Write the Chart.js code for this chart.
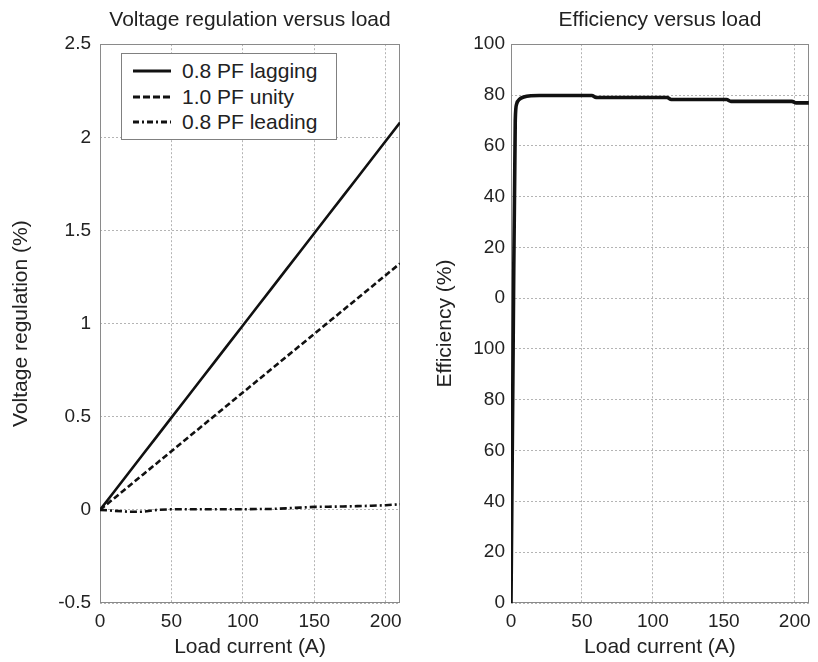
<!DOCTYPE html>
<html><head><meta charset="utf-8">
<script src="https://cdn.jsdelivr.net/npm/chart.js@4.4.1/dist/chart.umd.min.js"></script>
<style>
html,body{margin:0;padding:0;background:#fff;}
#wrap{position:relative;width:818px;height:662px;overflow:hidden;font-family:"Liberation Sans",Arial,sans-serif;}
#left{position:absolute;left:0;top:0;width:420px;height:662px;}
#right{position:absolute;left:420px;top:0;width:398px;height:662px;}
#legend{position:absolute;left:121px;top:53px;width:214px;height:85px;border:1px solid #808080;background:#fff;}
.row{position:absolute;left:0;width:214px;height:24px;}
.row svg{position:absolute;left:10px;top:0;}
.row span{position:absolute;left:60px;top:0;line-height:24px;font-size:21px;color:#222;white-space:nowrap;}
</style></head>
<body>
<div id="wrap">
  <div id="left"><canvas id="c1"></canvas></div>
  <div id="right"><canvas id="c2"></canvas></div>
  <div id="legend"></div>
</div>
<script>
// ---- data ----
const loadA    = [0,10,20,30,40,50,60,70,80,90,100,110,120,130,140,150,160,170,180,190,200,210];
const lagging  = [0,0.099,0.198,0.297,0.396,0.495,0.594,0.693,0.792,0.891,0.99,1.089,1.188,1.287,1.386,1.485,1.584,1.683,1.782,1.881,1.98,2.079];
const unity    = [0,0.063,0.126,0.189,0.252,0.315,0.378,0.441,0.504,0.567,0.63,0.693,0.756,0.819,0.882,0.945,1.008,1.071,1.134,1.197,1.26,1.323];
const leading  = [0,-0.005,-0.01,-0.01,0.0,0.003,0.003,0.003,0.003,0.003,0.003,0.005,0.005,0.008,0.012,0.016,0.017,0.018,0.02,0.022,0.025,0.03];
const seriesNames = ['0.8 PF lagging','1.0 PF unity','0.8 PF leading'];

const effLoad    = [0,1.5,3,4,6,9,14,20,57,60,110,113,152,155,198,201,210];
const efficiency = [-120,-20,70,76.5,78.3,79.2,79.7,79.8,79.8,79.0,79.0,78.2,78.2,77.5,77.5,76.9,76.9];
const effTickLabels = ['0','20','40','60','80','100','0','20','40','60','80','100']; // bottom to top

const xTicksShown = [0,50,100,150,200];

// ---- styles ----
Chart.defaults.font.family = '"Liberation Sans", Arial, sans-serif';
Chart.defaults.color = '#222';
const GRID = '#b4b4b4';
const dashes = [[], [6,3], [7,3,2,3]];

const boxPlugin = {
  id:'box',
  beforeDatasetsDraw(chart){
    const {ctx, chartArea:a} = chart;
    ctx.save();
    ctx.strokeStyle = '#8a8a8a';
    ctx.lineWidth = 1;
    ctx.setLineDash([]);
    ctx.strokeRect(Math.round(a.left)+0.5, Math.round(a.top)+0.5, Math.round(a.right-a.left)-1, Math.round(a.bottom-a.top)-1);
    ctx.restore();
  }
};

function xScale(){
  return {
    type:'linear', min:0, max:210,
    afterBuildTicks(s){ s.ticks = xTicksShown.map(v=>({value:v})); },
    afterFit(s){ s.height = 59; },
    grid:{color:GRID, drawTicks:false, lineWidth:1},
    border:{display:false, dash:[2,2]},
    ticks:{font:{size:19}, padding:7, color:'#222', maxRotation:0},
    title:{display:true, text:'Load current (A)', font:{size:21}, padding:{top:0,bottom:2}, color:'#222'}
  };
}

const pairs = (xs, ys) => xs.map((x,i)=>({x, y:ys[i]}));

new Chart(document.getElementById('c1'), {
  type:'line',
  data:{datasets:[lagging,unity,leading].map((d,i)=>({
    label:seriesNames[i], data:pairs(loadA,d), borderColor:'#111', borderWidth:2.6,
    borderDash:dashes[i], pointRadius:0, fill:false, tension:0
  }))},
  options:{
    responsive:true, maintainAspectRatio:false, animation:false,
    layout:{padding:{left:0,right:20,top:0,bottom:0}},
    plugins:{legend:{display:false}, tooltip:{enabled:false},
      title:{display:true, fullSize:false, text:'Voltage regulation versus load', font:{size:21, weight:'normal'}, color:'#222', padding:{top:8,bottom:11}}},
    scales:{
      x: xScale(),
      y:{type:'linear', min:-0.5, max:2.5,
        afterFit(s){ s.width = 100; },
        grid:{color:GRID, drawTicks:false},
        border:{display:false, dash:[2,2]},
        ticks:{stepSize:0.5, font:{size:19}, padding:9, color:'#222', callback:(v)=>String(v)},
        title:{display:true, text:'Voltage regulation (%)', font:{size:21}, padding:{top:9,bottom:0}, color:'#222'}}
    }
  },
  plugins:[boxPlugin]
});

new Chart(document.getElementById('c2'), {
  type:'line',
  data:{datasets:[{label:'Efficiency', data:pairs(effLoad,efficiency), borderColor:'#111', borderWidth:3.6,
    pointRadius:0, fill:false, tension:0.2, cubicInterpolationMode:'monotone'}]},
  options:{
    responsive:true, maintainAspectRatio:false, animation:false,
    layout:{padding:{left:0,right:7,top:0,bottom:0}},
    plugins:{legend:{display:false}, tooltip:{enabled:false},
      title:{display:true, fullSize:false, text:'Efficiency versus load', font:{size:21, weight:'normal'}, color:'#222', padding:{top:8,bottom:11}}},
    scales:{
      x: xScale(),
      y:{type:'linear', min:-120, max:100,
        afterFit(s){ s.width = 91; },
        grid:{color:GRID, drawTicks:false},
        border:{display:false, dash:[2,2]},
        ticks:{stepSize:20, font:{size:19}, padding:6, color:'#222',
          callback:(v,i)=>effTickLabels[i]},
        title:{display:true, text:'Efficiency (%)', font:{size:21}, padding:{top:13,bottom:0}, color:'#222'}}
    }
  },
  plugins:[boxPlugin]
});

// ---- legend ----
const leg = document.getElementById('legend');
const rowTops = [5, 31, 56];
const svgDash = ['', '7,3', '6,3,2,3'];
seriesNames.forEach((n,i)=>{
  const r = document.createElement('div');
  r.className='row'; r.style.top = rowTops[i]+'px';
  r.innerHTML = '<svg width="40" height="24"><line x1="1" y1="12" x2="39" y2="12" stroke="#111" stroke-width="3"'+(svgDash[i]?' stroke-dasharray="'+svgDash[i]+'"':'')+'/></svg><span>'+n+'</span>';
  leg.appendChild(r);
});
</script>
</body></html>
